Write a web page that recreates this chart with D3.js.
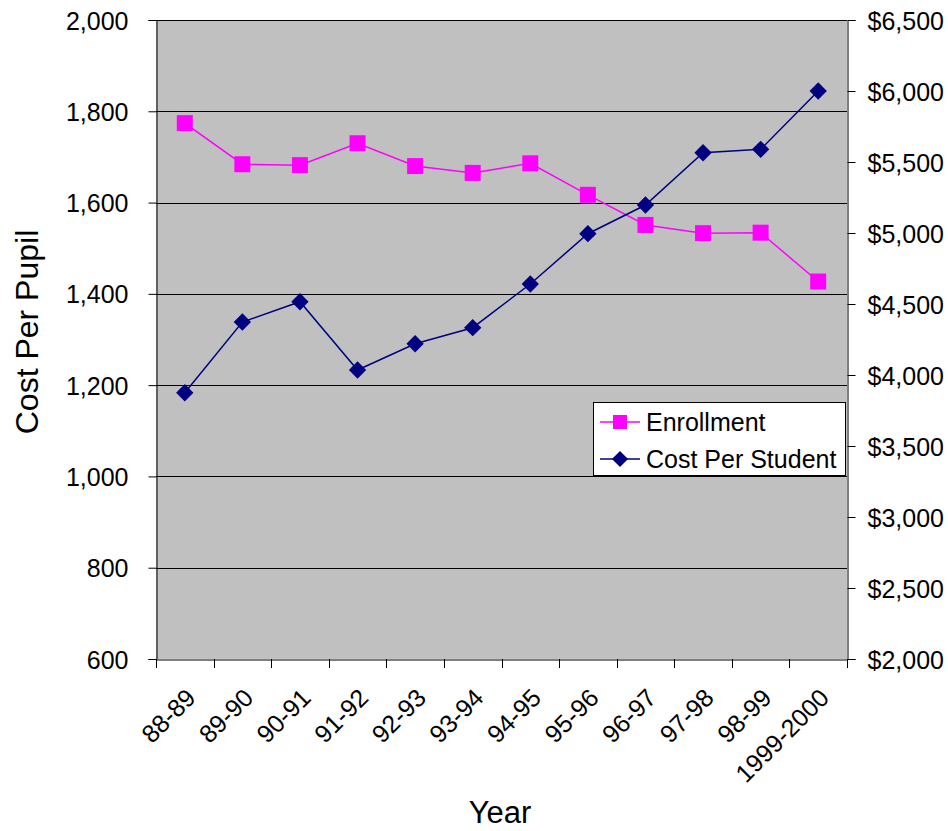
<!DOCTYPE html>
<html>
<head>
<meta charset="utf-8">
<script src="https://cdn.jsdelivr.net/npm/d3@7"></script>
<style>
  html, body { margin: 0; padding: 0; background: #fff; }
  svg text { font-family: "Liberation Sans", Arial, sans-serif; fill: #000; }
</style>
</head>
<body>
<svg id="chart" width="948" height="831"></svg>
<script>
const years = ["88-89","89-90","90-91","91-92","92-93","93-94","94-95","95-96","96-97","97-98","98-99","1999-2000"];
const enrollment = [1774, 1684, 1682, 1730, 1680, 1665, 1686, 1617, 1551, 1533, 1534, 1427];
const costPerStudent = [3875, 4373, 4516, 4035, 4220, 4333, 4641, 4995, 5197, 5565, 5589, 6000];
const leftTicks = [600, 800, 1000, 1200, 1400, 1600, 1800, 2000];
const rightTicks = [2000, 2500, 3000, 3500, 4000, 4500, 5000, 5500, 6000, 6500];
const seriesNames = ["Enrollment", "Cost Per Student"];

const svg = d3.select("#chart");
const L = 156, R = 847, T = 20, B = 659;

const x = d3.scaleBand().domain(years).range([L, R]);
const yL = d3.scaleLinear().domain([600, 2000]).range([B, T]);
const yR = d3.scaleLinear().domain([2000, 6500]).range([B, T]);

// plot background
svg.append("rect").attr("x", L).attr("y", T).attr("width", R - L).attr("height", B - T).attr("fill", "#C0C0C0");

// gridlines
svg.append("g").selectAll("line").data(leftTicks.slice(1)).join("line")
  .attr("x1", L).attr("x2", R)
  .attr("y1", d => Math.round(yL(d)) + 0.5).attr("y2", d => Math.round(yL(d)) + 0.5)
  .attr("stroke", "#000").attr("stroke-width", 1);

const fmtL = d3.format(",");
const fmtR = d => "$" + d3.format(",")(d);

// left axis
const gL = svg.append("g").attr("transform", `translate(${L + 0.5},0)`)
  .call(d3.axisLeft(yL).tickValues(leftTicks).tickFormat(fmtL).tickSizeOuter(0).tickSize(8).tickPadding(20));
// right axis
const gR = svg.append("g").attr("transform", `translate(${R + 0.5},0)`)
  .call(d3.axisRight(yR).tickValues(rightTicks).tickFormat(fmtR).tickSizeOuter(0).tickSize(8).tickPadding(12));
// bottom axis
const gB = svg.append("g").attr("transform", `translate(0,${B + 0.5})`)
  .call(d3.axisBottom(x).tickSize(0).tickSizeOuter(0).tickFormat(""));
// category boundary ticks
const bounds = years.map(d => x(d)).concat([R]);
svg.append("g").selectAll("line").data(bounds).join("line")
  .attr("x1", d => Math.round(d) + 0.5).attr("x2", d => Math.round(d) + 0.5)
  .attr("y1", B).attr("y2", B + 9).attr("stroke", "#000");

[gL, gR, gB].forEach(g => {
  g.selectAll(".domain").attr("stroke", "#000").attr("stroke-width", 1);
  g.selectAll(".tick line").attr("stroke", "#000");
  g.selectAll("text").style("font-size", "25px").attr("font-family", "Liberation Sans, Arial, sans-serif");
});
gL.selectAll(".tick text").attr("dy", "0.36em");
gR.selectAll(".tick text").attr("dy", "0.36em");

// x tick labels rotated
svg.append("g").selectAll("text").data(years).join("text")
  .attr("transform", d => `translate(${x(d) + x.bandwidth() / 2 + 6},${B + 34}) rotate(-45)`)
  .attr("text-anchor", "end")
  .attr("dy", "0.36em")
  .style("font-size", "25px")
  .text(d => d);

// lines
const lineE = d3.line().x((d, i) => x(years[i]) + x.bandwidth() / 2).y(d => yL(d));
const lineC = d3.line().x((d, i) => x(years[i]) + x.bandwidth() / 2).y(d => yR(d));

svg.append("path").datum(enrollment).attr("d", lineE).attr("fill", "none").attr("stroke", "#FF00FF").attr("stroke-width", 1.5);
svg.append("path").datum(costPerStudent).attr("d", lineC).attr("fill", "none").attr("stroke", "#000080").attr("stroke-width", 1.5);

const sq = 16;
svg.append("g").selectAll("rect").data(enrollment).join("rect")
  .attr("x", (d, i) => x(years[i]) + x.bandwidth() / 2 - sq / 2)
  .attr("y", d => yL(d) - sq / 2)
  .attr("width", sq).attr("height", sq).attr("fill", "#FF00FF");

const diamond = d3.symbol().type(d3.symbolDiamond2).size(240);
svg.append("g").selectAll("path").data(costPerStudent).join("path")
  .attr("transform", (d, i) => `translate(${x(years[i]) + x.bandwidth() / 2},${yR(d)}) rotate(45)`)
  .attr("d", d3.symbol().type(d3.symbolSquare).size(150)())
  .attr("fill", "#000080");

// axis titles
svg.append("text").attr("transform", "translate(38,332) rotate(-90)")
  .attr("text-anchor", "middle").style("font-size", "32px").text("Cost Per Pupil");
svg.append("text").attr("x", 500).attr("y", 823)
  .attr("text-anchor", "middle").style("font-size", "31px").text("Year");

// legend
const lg = svg.append("g");
lg.append("rect").attr("x", 593.5).attr("y", 402.5).attr("width", 252).attr("height", 73)
  .attr("fill", "#fff").attr("stroke", "#000").attr("stroke-width", 1);
const legendColors = ["#FF00FF", "#000080"];
seriesNames.forEach((name, i) => {
  const cy = 422 + i * 37;
  lg.append("line").attr("x1", 600).attr("x2", 640).attr("y1", cy).attr("y2", cy)
    .attr("stroke", legendColors[i]).attr("stroke-width", 1.5);
  if (i === 0) {
    lg.append("rect").attr("x", 620 - 7).attr("y", cy - 7).attr("width", 14).attr("height", 14).attr("fill", legendColors[i]);
  } else {
    lg.append("path").attr("transform", `translate(620,${cy}) rotate(45)`)
      .attr("d", d3.symbol().type(d3.symbolSquare).size(130)()).attr("fill", legendColors[i]);
  }
  lg.append("text").attr("x", 646).attr("y", cy).attr("dy", "0.36em")
    .style("font-size", "25px").text(name);
});
</script>
</body>
</html>
